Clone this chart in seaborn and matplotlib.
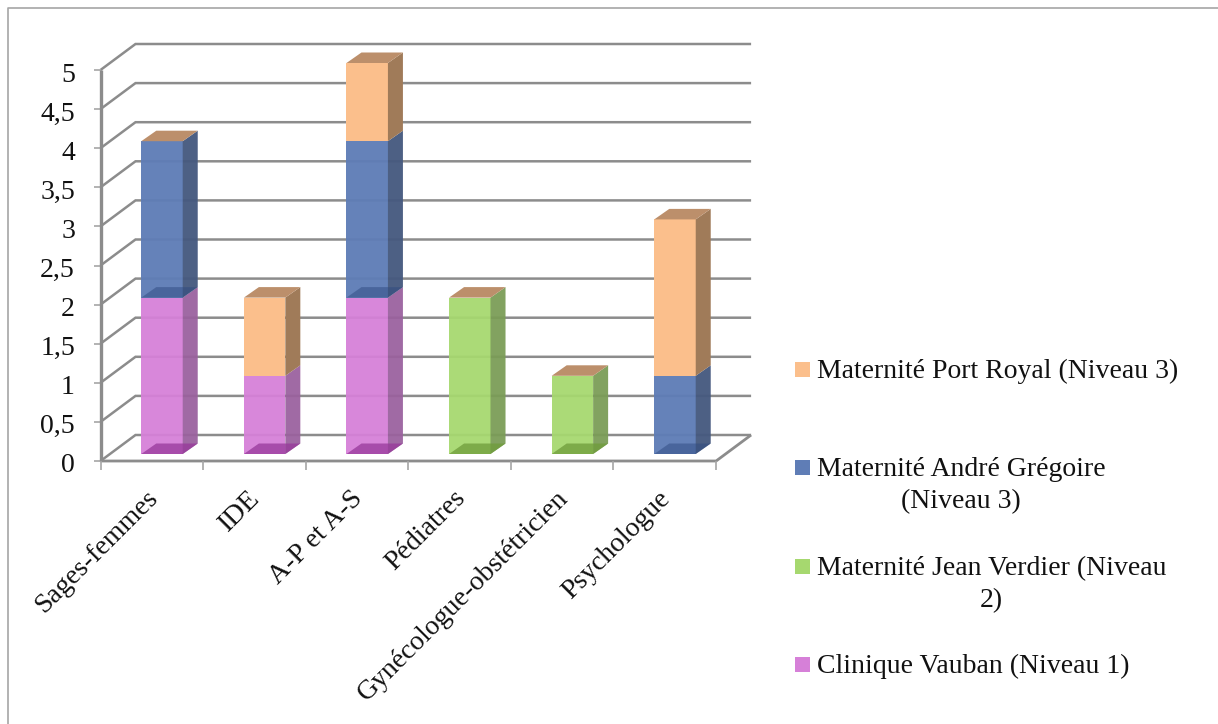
"""Histogramme empilé façon Excel 3D : effectifs par profession et par maternité."""

import matplotlib
matplotlib.use("Agg")
import matplotlib.pyplot as plt
import seaborn as sns
from matplotlib.lines import Line2D
from matplotlib.patches import Polygon, Rectangle
from matplotlib.transforms import Affine2D, IdentityTransform

categories = ["Sages-femmes", "IDE", "A-P et A-S", "Pédiatres",
              "Gynécologue-obstétricien", "Psychologue"]
vauban = [2, 1, 2, 0, 0, 0]
verdier = [0, 0, 0, 2, 1, 0]
gregoire = [2, 0, 2, 0, 0, 1]
port_royal = [0, 1, 1, 0, 0, 2]
y_ticks = [0, 0.5, 1, 1.5, 2, 2.5, 3, 3.5, 4, 4.5, 5]
y_labels = ["0", "0,5", "1", "1,5", "2", "2,5", "3", "3,5", "4", "4,5", "5"]

# (valeurs, libellé, face, côté, fond, alpha du fond, alpha des faces)
SERIES = [
    (vauban, "Clinique Vauban (Niveau 1)", "#D680D8", "#9A619E", "#97389A", 0.75, 0.94),
    (verdier, "Maternité Jean Verdier (Niveau\n2)", "#A6D86F", "#7A9C56", "#6E9C3A", 0.75, 0.94),
    (gregoire, "Maternité André Grégoire\n(Niveau 3)", "#5F7DB6", "#46597F", "#2F4A80", 0.5, 0.96),
    (port_royal, "Maternité Port Royal (Niveau 3)", "#FBBF8C", "#A07B59", "#FBBF8C", 0.0, 1.0),
]
CAP = "#BC8F6B"          # le dessus de chaque pile garde la teinte de la dernière série
LEGEND_Y = [664, 566, 467, 369]  # pixels depuis le haut, première ligne

W, H = 1218, 724
GRID = "#8C8C8C"
FONT = "Liberation Serif"
FS = 20
DEPTH = (15, 10.5)       # profondeur des barres
FRONT = (-10.2, -7)      # plan avant (axes) par rapport au plan des barres
BACK = (24.8, 19)        # mur du fond par rapport au plan des barres

sns.set_theme(style="white")
plt.rcParams["font.family"] = [FONT, "DejaVu Serif"]

fig = plt.figure(figsize=(W / 100, H / 100), dpi=100)
# axes calés sur le plan avant des barres
left, right, top, bottom = 110.7, 726.3, 63.0, 454.0
ax = fig.add_axes([left / W, 1 - bottom / H, (right - left) / W, (bottom - top) / H])
ax.patch.set_visible(False)

stack = [0] * len(categories)
containers = []
for values, label, face, side, floor, floor_alpha, face_alpha in SERIES:
    sns.barplot(x=categories, y=values, bottom=stack, color=face, saturation=1,
                width=0.404, errorbar=None, alpha=face_alpha, linewidth=0, zorder=3, ax=ax)
    containers.append(ax.containers[-1])
    stack = [a + b for a, b in zip(stack, values)]

ax.set_xlim(-0.5, len(categories) - 0.5)
ax.set_ylim(0, 5)
sns.despine(ax=ax, left=True, bottom=True)


def px(x, v, offset=(0, 0)):
    """Coordonnées données -> pixels écran, avec décalage (dx, dy vers le haut)."""
    X, Y = ax.transData.transform((x, v))
    return X + offset[0], Y + offset[1]


def poly(points, color, alpha=1.0, z=4):
    ax.add_patch(Polygon(points, closed=True, facecolor=color, edgecolor="none", alpha=alpha,
                         transform=IdentityTransform(), clip_on=False, zorder=z))


def line(points, lw=2.4, z=1, color=GRID):
    xs, ys = zip(*points)
    ax.add_line(Line2D(xs, ys, color=color, lw=lw, transform=IdentityTransform(),
                       clip_on=False, zorder=z, solid_capstyle="butt", solid_joinstyle="miter"))


# murs et grille
x_start, x_end = ax.get_xlim()
for v in y_ticks:
    line([px(x_start, v, FRONT), px(x_start, v, BACK), px(x_end, v, BACK)], lw=1.8)
    a = px(x_start, v, FRONT)
    line([(a[0] - 7, a[1]), a], lw=1.2, color="#A6A6A6")
line([px(x_start, 0, FRONT), px(x_start, 5, FRONT)])
line([px(x_start, 0, FRONT), px(x_end, 0, FRONT), px(x_end, 0, BACK)], lw=2.0)
for edge in range(len(categories) + 1):
    a = px(edge - 0.5, 0, FRONT)
    line([a, (a[0], a[1] - 9)], lw=1.2, color="#A6A6A6")

# faces 3D : côté, fond, dessus, à partir des rectangles tracés par seaborn
for s, bars in enumerate(containers):
    values, label, face, side, floor, floor_alpha, face_alpha = SERIES[s]
    for i, bar in enumerate(bars):
        if bar.get_height() == 0:
            continue
        x0, x1 = bar.get_x(), bar.get_x() + bar.get_width()
        y0, y1 = bar.get_y(), bar.get_y() + bar.get_height()
        poly([px(x1, y0), px(x1, y1), px(x1, y1, DEPTH), px(x1, y0, DEPTH)], side, face_alpha)
        if floor_alpha:
            poly([px(x0, y0), px(x1, y0), px(x1, y0, DEPTH), px(x0, y0, DEPTH)], floor, floor_alpha, z=5)
        if abs(y1 - stack[i]) < 1e-9:
            poly([px(x0, y1), px(x1, y1), px(x1, y1, DEPTH), px(x0, y1, DEPTH)], CAP)

# graduations
ax.set_yticks(y_ticks, y_labels)
ax.set_xticks(range(len(categories)), categories)
ax.tick_params(axis="both", length=0)
ax.tick_params(axis="y", pad=18.4)
shift_y = Affine2D().translate(FRONT[0], FRONT[1] - 2)
for lab in ax.get_yticklabels():
    lab.set(fontsize=FS, color="#111111", family=FONT)
    lab.set_transform(lab.get_transform() + shift_y)
shift_x = Affine2D().translate(-17, FRONT[1] - 20)
for lab in ax.get_xticklabels():
    lab.set(fontsize=FS, color="#111111", family=FONT, rotation=45, ha="right", va="top",
            rotation_mode="anchor")
    lab.set_transform(lab.get_transform() + shift_x)
ax.set_xlabel("")
ax.set_ylabel("")

# légende à droite
for (values, label, face, *_), ly in zip(SERIES, LEGEND_Y):
    fig.add_artist(Rectangle((795 / W, 1 - (ly + 7.5) / H), 15 / W, 15 / H, facecolor=face,
                             edgecolor="none", transform=fig.transFigure))
    fig.text(817 / W, 1 - (ly - 10) / H, label, fontsize=FS, color="#111111", family=FONT,
             ha="left", va="top", multialignment="center", linespacing=1.39)

# cadre extérieur
fig.add_artist(Line2D([8 / W, 8 / W, 1], [0, 1 - 8 / H, 1 - 8 / H], color="#A6A6A6", lw=1.2,
                      transform=fig.transFigure))

fig.savefig("out.png", dpi=100)
plt.close(fig)
